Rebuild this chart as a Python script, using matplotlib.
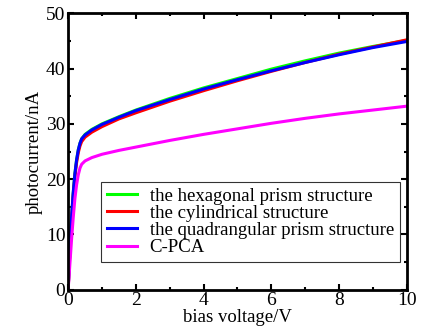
import numpy as np
import matplotlib.pyplot as plt

plt.rcParams['font.family'] = ['Liberation Serif', 'DejaVu Serif']

# values
voltage = [0, 0.05, 0.1, 0.15, 0.2, 0.25, 0.3, 0.35, 0.4, 0.5, 0.7, 1, 1.5, 2, 3, 4, 5, 6, 7, 8, 9, 10]
hexagonal = [0, 7, 13, 17.5, 21, 23.5, 25.3, 26.5, 27.3, 28.1, 29.0, 30.0, 31.3, 32.5, 34.6, 36.5, 38.2, 39.9, 41.4, 42.8, 44.0, 45.1]
cylindrical = [0, 6.5, 12.5, 17, 20.5, 23, 24.8, 26, 26.8, 27.6, 28.5, 29.5, 30.9, 32.0, 34.1, 36.0, 37.8, 39.5, 41.1, 42.6, 43.9, 45.2]
quadrangular = [0, 7, 13, 17.5, 21, 23.5, 25.3, 26.5, 27.3, 28.0, 28.9, 29.9, 31.2, 32.4, 34.4, 36.3, 38.0, 39.6, 41.1, 42.5, 43.8, 44.9]
cpca = [0, 4.5, 9, 13, 16.5, 19, 20.8, 22, 22.7, 23.3, 23.9, 24.5, 25.2, 25.8, 27.0, 28.1, 29.1, 30.1, 31.0, 31.8, 32.5, 33.2]

fig, ax = plt.subplots(figsize=(4.34, 3.33), dpi=100)
fig.subplots_adjust(left=0.157, right=0.937, top=0.96, bottom=0.13)

ax.plot(voltage, hexagonal, color='#00ff00', lw=2.2, label='the hexagonal prism structure')
ax.plot(voltage, cylindrical, color='#ff0000', lw=2.2, label='the cylindrical structure')
ax.plot(voltage, quadrangular, color='#0000ff', lw=2.2, label='the quadrangular prism structure')
ax.plot(voltage, cpca, color='#ff00ff', lw=2.2, label='C-PCA')

ax.set_xlim(0, 10)
ax.set_ylim(0, 50)
ax.set_xticks(np.arange(0, 11, 2))
ax.set_yticks(np.arange(0, 51, 10))
ax.set_xticks(np.arange(1, 10, 2), minor=True)
ax.set_yticks(np.arange(5, 50, 10), minor=True)
ax.tick_params(which='both', direction='in', top=True, right=True, width=1.5, labelsize=14, pad=2)
ax.tick_params(which='major', length=4)
ax.tick_params(which='minor', length=2.5)
for s in ax.spines.values():
    s.set_linewidth(2)

ax.set_xlabel('bias voltage/V', fontsize=13.5, labelpad=0)
ax.set_ylabel('photocurrent/nA', fontsize=13.5, labelpad=2)

leg = ax.legend(loc='lower right', bbox_to_anchor=(0.979, 0.101), fontsize=13.5, frameon=True,
                fancybox=False, edgecolor='black', handlelength=1.6, borderpad=0.3,
                labelspacing=0.0, handletextpad=0.7, borderaxespad=0)
leg.get_frame().set_linewidth(0.8)

fig.savefig('out.png', dpi=100)
